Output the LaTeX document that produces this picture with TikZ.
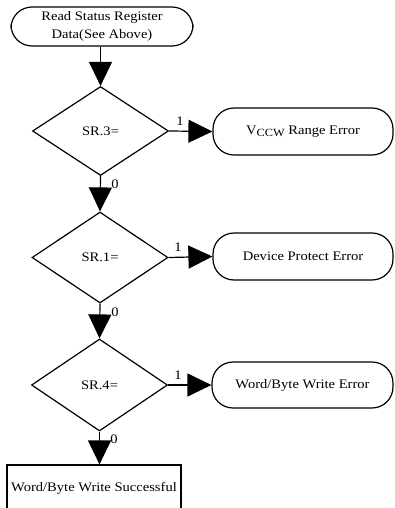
\documentclass[tikz,border=0pt]{standalone}
\usepackage{fontspec}
\setmainfont[FakeStretch=1.12]{Liberation Serif}
\usetikzlibrary{arrows.meta,shapes.geometric}
\begin{document}
\begin{tikzpicture}[x=1pt,y=-1pt,
  every node/.style={font=\fontsize{13}{17.5}\selectfont},
  term/.style={draw,line width=1.2pt,rounded corners=21pt,inner sep=0pt,align=center},
  dec/.style={draw,diamond,line width=1.2pt,minimum width=136pt,minimum height=89pt,inner sep=0pt},
  box/.style={draw,line width=1.2pt,inner sep=0pt,minimum width=174pt,minimum height=46pt},
  flow/.style={line width=1.2pt,-{Triangle[length=24pt,width=23pt]}},
  lbl/.style={inner sep=0pt}]
\useasboundingbox (0,0) rectangle (394,508);
\clip (0,0) rectangle (394,508);
\node[term,minimum width=182pt,minimum height=39pt] (t1) at (102,26.5) {Read Status Register\\Data(See Above)};
\node[dec] (d1) at (100.5,131) {SR.3=};
\node[dec,minimum height=91pt] (d2) at (100,257.5) {SR.1=};
\node[dec,minimum height=92pt] (d3) at (99.5,385) {SR.4=};
\node[term,minimum width=180pt,minimum height=47pt] (e1) at (303,131.5) {V{\fontsize{11}{13}\selectfont\raisebox{-2.5pt}{CCW}} Range Error};
\node[term,minimum width=180pt,minimum height=47pt] (e2) at (303,256.5) {Device Protect Error};
\node[term,minimum width=181pt,minimum height=46pt] (e3) at (302.5,385) {Word/Byte Write Error};
\node[box] (s) at (94,488) {Word/Byte Write Successful};
\draw[flow] (t1.south -| d1.north) -- (d1.north);
\draw[flow] (d1.east) -- (e1.west);
\draw[flow] (d2.east) -- (e2.west);
\draw[flow] (d3.east) -- (e3.west);
\draw[flow] (d1.south) -- (d2.north);
\draw[flow] (d2.south) -- (d3.north);
\draw[flow] (d3.south) -- (s.north -| d3.south);
\node[lbl] (l1) at (180,121) {1};
\node[lbl] (l2) at (178,247) {1};
\node[lbl] (l3) at (178,375) {1};
\node[lbl] (z1) at (115,184) {0};
\node[lbl] (z2) at (115,312) {0};
\node[lbl] (z3) at (114,439) {0};
\end{tikzpicture}
\end{document}
